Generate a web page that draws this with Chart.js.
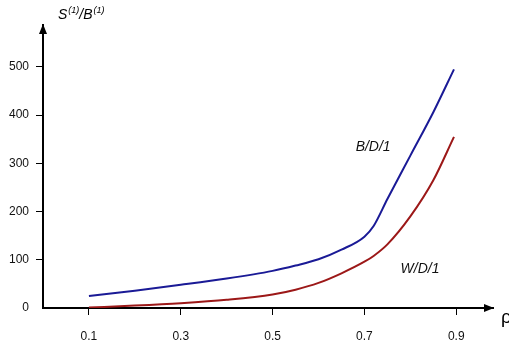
<!DOCTYPE html>
<html>
<head>
<meta charset="utf-8">
<script src="https://cdn.jsdelivr.net/npm/chart.js@4/dist/chart.umd.min.js"></script>
<style>
  html, body { margin: 0; padding: 0; background: #fff; }
  #wrap { width: 509px; height: 341px; }
</style>
</head>
<body>
<div id="wrap"><canvas id="c" width="509" height="341"></canvas></div>
<script>
// rho values and the two curves
var rho = [0.1, 0.2, 0.3, 0.4, 0.5, 0.55, 0.6, 0.65, 0.7, 0.72, 0.75, 0.8, 0.85, 0.895];
var bd1 = [25, 36, 48, 61, 77, 88, 101, 121, 148, 170, 226, 316, 406, 495];
var wd1 = [1, 5, 10, 17, 28, 38, 52, 72, 96, 108, 132, 190, 265, 355];
var xTicks = [0.1, 0.3, 0.5, 0.7, 0.9];
var yTicks = [0, 100, 200, 300, 400, 500];

function pts(ys) {
    return rho.map(function (r, i) { return { x: r, y: ys[i] }; });
}

var font = "'Liberation Sans', Arial, sans-serif";

var extras = {
    id: 'extras',
    afterDraw: function (chart) {
        var ctx = chart.ctx;
        var a = chart.chartArea;
        var xs = chart.scales.x, ys = chart.scales.y;
        ctx.save();
        ctx.fillStyle = '#000';
        // arrow heads
        ctx.beginPath();
        ctx.moveTo(a.left, a.top - 1);
        ctx.lineTo(a.left - 4, a.top + 9);
        ctx.lineTo(a.left + 4, a.top + 9);
        ctx.closePath();
        ctx.fill();
        ctx.beginPath();
        ctx.moveTo(a.right + 1, a.bottom);
        ctx.lineTo(a.right - 9, a.bottom - 4);
        ctx.lineTo(a.right - 9, a.bottom + 4);
        ctx.closePath();
        ctx.fill();

        // y axis title S(1)/B(1)
        ctx.textBaseline = 'alphabetic';
        ctx.textAlign = 'left';
        var x = 58, base = 19;
        ctx.font = 'italic 14px ' + font;
        ctx.fillText('S', x, base); x += ctx.measureText('S').width + 1;
        ctx.font = 'italic 9px ' + font;
        ctx.fillText('(1)', x, base - 6); x += ctx.measureText('(1)').width;
        ctx.font = 'italic 14px ' + font;
        ctx.fillText('/B', x, base); x += ctx.measureText('/B').width + 1;
        ctx.font = 'italic 9px ' + font;
        ctx.fillText('(1)', x, base - 6);

        // x axis title
        ctx.font = '19px ' + font;
        ctx.fillText('\u03c1', 501, 323);

        // curve labels
        ctx.font = 'italic 14px ' + font;
        ctx.textAlign = 'center';
        ctx.textBaseline = 'middle';
        ctx.fillStyle = '#111';
        ctx.fillText('B/D/1', xs.getPixelForValue(0.719), ys.getPixelForValue(333));
        ctx.fillText('W/D/1', xs.getPixelForValue(0.821), ys.getPixelForValue(80));
        ctx.restore();
    }
};

var chart = new Chart(document.getElementById('c').getContext('2d'), {
    type: 'line',
    data: {
        datasets: [{
            label: 'B/D/1',
            data: pts(bd1),
            borderColor: '#1a1a96',
            borderWidth: 2,
            pointRadius: 0,
            cubicInterpolationMode: 'monotone',
            fill: false
        }, {
            label: 'W/D/1',
            data: pts(wd1),
            borderColor: '#9c1818',
            borderWidth: 2,
            pointRadius: 0,
            cubicInterpolationMode: 'monotone',
            fill: false
        }]
    },
    options: {
        responsive: false,
        animation: false,
        layout: { padding: { top: 25, right: 16, left: 0, bottom: 0 } },
        plugins: { legend: { display: false }, tooltip: { enabled: false } },
        scales: {
            x: {
                type: 'linear',
                min: 0,
                max: 0.98,
                afterBuildTicks: function (s) { s.ticks = xTicks.map(function (v) { return { value: v }; }); },
                afterFit: function (s) { s.height = 33; },
                grid: { drawOnChartArea: false, drawTicks: true, tickLength: 7, color: '#000', lineWidth: 1 },
                border: { display: true, color: '#000', width: 2 },
                ticks: {
                    padding: 14,
                    color: '#111',
                    font: { family: font, size: 12 },
                    maxRotation: 0,
                    callback: function (v) { return v.toFixed(1); }
                }
            },
            y: {
                min: 0,
                max: 587,
                afterBuildTicks: function (s) { s.ticks = yTicks.map(function (v) { return { value: v }; }); },
                afterFit: function (s) { s.width = 43; },
                grid: {
                    drawOnChartArea: false, drawTicks: true, tickLength: 7, lineWidth: 1,
                    color: function (c) { return c.tick && c.tick.value === 0 ? 'rgba(0,0,0,0)' : '#000'; }
                },
                border: { display: true, color: '#000', width: 2 },
                ticks: {
                    padding: 7,
                    color: '#111',
                    font: { family: font, size: 12 }
                }
            }
        }
    },
    plugins: [extras]
});
</script>
</body>
</html>
